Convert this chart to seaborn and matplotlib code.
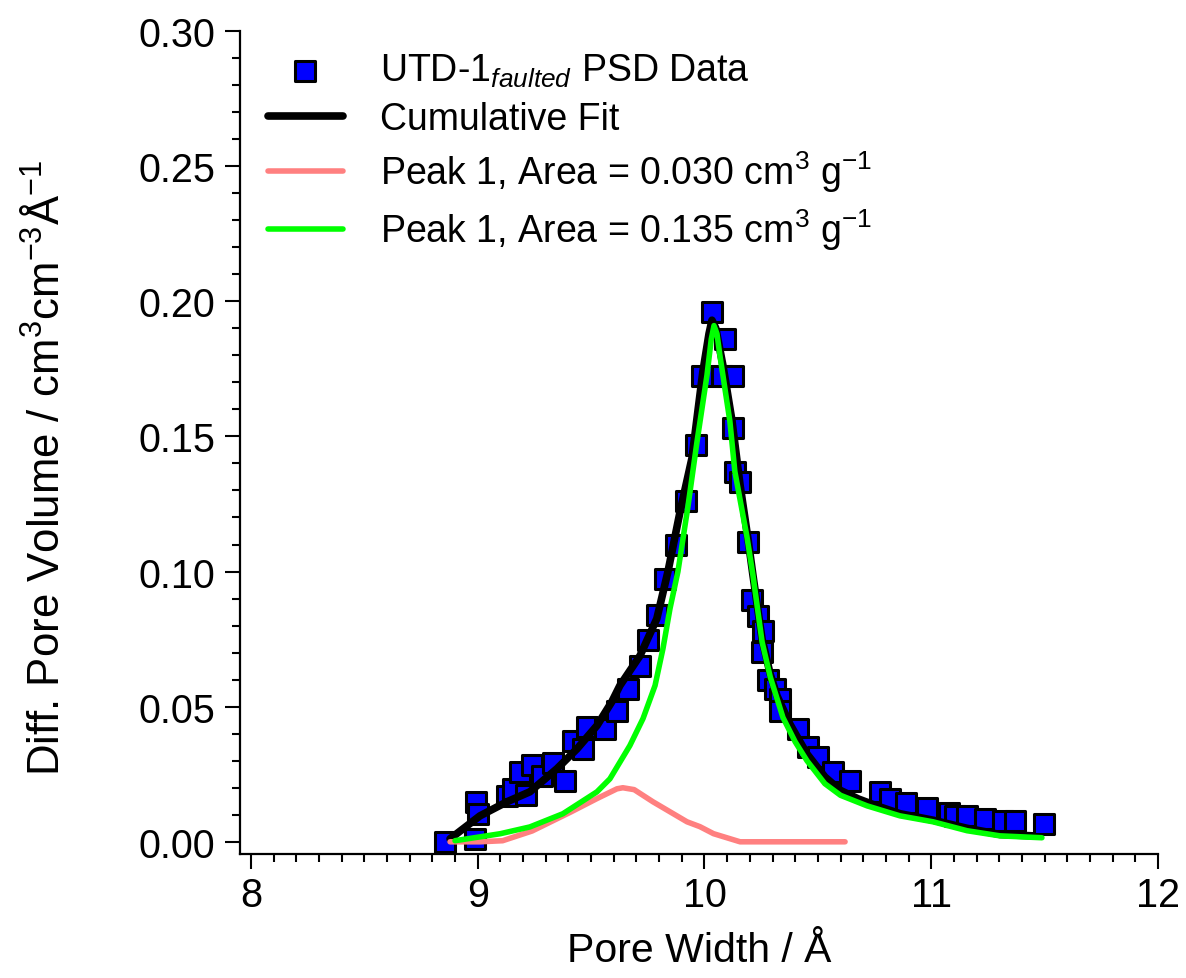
import matplotlib
matplotlib.use("Agg")
import matplotlib.pyplot as plt
import seaborn as sns
from matplotlib.ticker import MultipleLocator, FormatStrFormatter

# PSD data points (pore width / A, diff. pore volume)
psd_x = [8.856, 8.988, 8.992, 9.001, 9.129, 9.156, 9.186, 9.215, 9.239, 9.283,
         9.332, 9.385, 9.420, 9.464, 9.480, 9.560, 9.614, 9.663, 9.716, 9.750,
         9.790, 9.826, 9.874, 9.918, 9.963, 9.990, 10.033, 10.090, 10.077, 10.126,
         10.126, 10.135, 10.157, 10.190, 10.210, 10.236, 10.258, 10.254, 10.280,
         10.310, 10.333, 10.333, 10.412, 10.456, 10.500, 10.567, 10.640, 10.774,
         10.818, 10.887, 10.980, 11.080, 11.105, 11.158, 11.237, 11.316, 11.370,
         11.497]
psd_y = [0.0000, 0.0010, 0.0148, 0.0104, 0.0170, 0.0196, 0.0260, 0.0172, 0.0285, 0.0245,
         0.0290, 0.0226, 0.0374, 0.0344, 0.0426, 0.0419, 0.0485, 0.0567, 0.0650, 0.0748,
         0.0840, 0.0974, 0.1100, 0.1260, 0.1467, 0.1722, 0.1960, 0.1860, 0.1722, 0.1722,
         0.1530, 0.1370, 0.1330, 0.1111, 0.0893, 0.0837, 0.0780, 0.0704, 0.0600,
         0.0567, 0.0530, 0.0485, 0.0419, 0.0350, 0.0315, 0.0260, 0.0226, 0.0185,
         0.0160, 0.0142, 0.0124, 0.0106, 0.0097, 0.0096, 0.0085, 0.0078, 0.0078,
         0.0067]

# cumulative fit
fit_x = [8.878, 9.010, 9.129, 9.230, 9.349, 9.438, 9.526, 9.592, 9.627, 9.716,
         9.790, 9.839, 9.892, 9.945, 9.993, 10.020, 10.033, 10.050, 10.082, 10.121,
         10.157, 10.192, 10.214, 10.254, 10.290, 10.320, 10.377, 10.452, 10.531,
         10.600, 10.680, 10.760, 10.862, 11.008, 11.158, 11.303, 11.449]
fit_y = [0.0011, 0.0096, 0.0148, 0.0185, 0.0270, 0.0344, 0.0430, 0.0519, 0.0578, 0.0689,
         0.0826, 0.1000, 0.1220, 0.1420, 0.1740, 0.1880, 0.1930, 0.1900, 0.1760, 0.1560,
         0.1320, 0.1120, 0.0985, 0.0750, 0.0620, 0.0540, 0.0435, 0.0325, 0.0240,
         0.0190, 0.0158, 0.0133, 0.0104, 0.0080, 0.0050, 0.0027, 0.0022]

# peak 1 (small)
pk1_x = [8.878, 9.010, 9.110, 9.240, 9.410, 9.526, 9.614, 9.640, 9.690, 9.773,
         9.923, 9.980, 10.040, 10.157, 10.620]
pk1_y = [0.0000, 0.0000, 0.0004, 0.0040, 0.0110, 0.0160, 0.0196, 0.0200, 0.0193, 0.0148,
         0.0074, 0.0056, 0.0030, 0.0000, 0.0000]

# peak 2 (main)
pk2_x = [8.900, 9.100, 9.230, 9.376, 9.526, 9.583, 9.671, 9.729, 9.782, 9.817,
         9.848, 9.883, 9.927, 9.967, 10.011, 10.030, 10.042, 10.055, 10.068, 10.112,
         10.134, 10.187, 10.214, 10.254, 10.290, 10.320, 10.346, 10.400, 10.452,
         10.531, 10.600, 10.717, 10.862, 11.008, 11.158, 11.303, 11.488]
pk2_y = [0.0004, 0.0030, 0.0055, 0.0104, 0.0185, 0.0233, 0.0356, 0.0456, 0.0578, 0.0715,
         0.0863, 0.1000, 0.1240, 0.1480, 0.1726, 0.1860, 0.1910, 0.1880, 0.1800, 0.1556,
         0.1370, 0.1130, 0.0985, 0.0740, 0.0610, 0.0530, 0.0460, 0.0370, 0.0300,
         0.0215, 0.0172, 0.0133, 0.0096, 0.0074, 0.0041, 0.0022, 0.0015]

sns.set_style("ticks")
plt.rcParams["font.family"] = ["Liberation Sans", "DejaVu Sans"]
plt.rcParams["mathtext.fontset"] = "custom"
plt.rcParams["mathtext.rm"] = "Liberation Sans"
plt.rcParams["mathtext.it"] = "Liberation Sans:italic"
plt.rcParams["mathtext.bf"] = "Liberation Sans:bold"
plt.rcParams["text.color"] = "black"
plt.rcParams["axes.labelcolor"] = "black"

fig = plt.figure(figsize=(11.86, 9.79), dpi=100)
ax = fig.add_axes([0.2024, 0.1267, 0.7740, 0.8406])

sns.scatterplot(x=psd_x, y=psd_y, marker="s", s=190, color="#0000FF",
                edgecolor="black", linewidth=2.2, zorder=2, ax=ax,
                label="UTD-1$_{faulted}$ PSD Data")
sns.lineplot(x=fit_x, y=fit_y, color="black", linewidth=5.5, zorder=3, ax=ax,
             label="Cumulative Fit")
sns.lineplot(x=pk1_x, y=pk1_y, color="#FF8080", linewidth=4, zorder=3, ax=ax,
             label="Peak 1, Area = 0.030 cm$^{3}$ g$^{-1}$")
sns.lineplot(x=pk2_x, y=pk2_y, color="#00FF00", linewidth=4, zorder=4, ax=ax,
             label="Peak 1, Area = 0.135 cm$^{3}$ g$^{-1}$")

ax.set_xlim(7.952, 12)
ax.set_ylim(-0.0045, 0.30)
ax.xaxis.set_major_locator(MultipleLocator(1))
ax.xaxis.set_minor_locator(MultipleLocator(0.1))
ax.yaxis.set_major_locator(MultipleLocator(0.05))
ax.yaxis.set_minor_locator(MultipleLocator(0.01))
ax.yaxis.set_major_formatter(FormatStrFormatter("%.2f"))

for side in ["top", "right"]:
    ax.spines[side].set_visible(False)
for side in ["left", "bottom"]:
    ax.spines[side].set_linewidth(1.6)
    ax.spines[side].set_color("black")

ax.tick_params(which="major", direction="out", length=11, width=1.5,
               labelsize=28.5, color="black", labelcolor="black")
ax.tick_params(which="minor", direction="out", length=6, width=1.5, color="black")
ax.tick_params(axis="y", which="major", pad=7)
ax.tick_params(axis="x", which="major", pad=5)

ax.set_xlabel("Pore Width / Å", fontsize=29.5, labelpad=12)
ax.set_ylabel("Diff. Pore Volume / cm$^{3}$cm$^{-3}$Å$^{-1}$", fontsize=31.5)
ax.yaxis.set_label_coords(-0.187, 0.47)

ax.legend(loc="upper left", bbox_to_anchor=(0.03, 0.975), frameon=False,
          fontsize=27, handlelength=2.0, handletextpad=1.0, labelspacing=0.32,
          borderaxespad=0, borderpad=0)

fig.savefig("out.png", dpi=100)
